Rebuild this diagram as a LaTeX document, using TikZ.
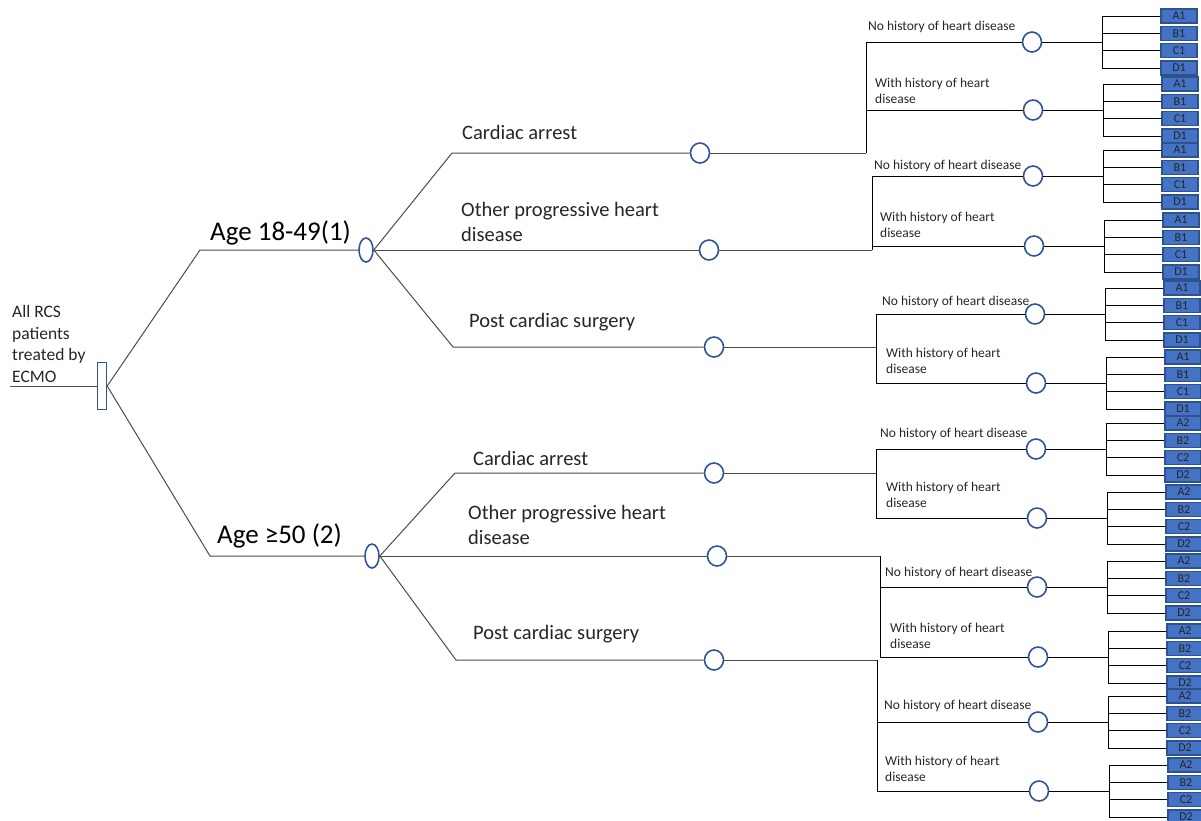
\documentclass[tikz,border=0pt]{standalone}
\usepackage{fontspec}
\setmainfont{Carlito}
\usetikzlibrary{shapes.geometric}

\definecolor{ovalblue}{HTML}{2F5597}
\definecolor{boxblue}{HTML}{4472C4}
\definecolor{boxedge}{HTML}{2F528F}
\definecolor{inkgray}{HTML}{262626}

\begin{document}
\begin{tikzpicture}[x=1pt, y=-1pt,
  chance/.style={ellipse, draw=ovalblue, line width=1.6pt, fill=white,
    inner sep=0pt, minimum width=19pt, minimum height=20pt},
  agechance/.style={chance, minimum width=14pt, minimum height=24pt},
  outcome/.style={rectangle, draw=boxedge, fill=boxblue, line width=1.2pt,
    minimum width=36pt, minimum height=14pt, inner sep=0pt, text=inkgray,
    font=\fontsize{12}{12}\selectfont},
  trunk/.style={draw=black!70, line width=1pt},
  bracket/.style={draw=black, line width=1pt},
  rootlabel/.style={anchor=west, align=left, inner sep=0pt, text=inkgray,
    font=\fontsize{17.5}{21.7}\selectfont},
  agelabel/.style={anchor=west, inner sep=0pt, text=black,
    font=\fontsize{27}{27}\selectfont},
  causelabel/.style={anchor=west, align=left, inner sep=0pt, text=inkgray,
    font=\fontsize{20.5}{25}\selectfont},
  historylabel/.style={anchor=west, align=left, inner sep=0pt, text=inkgray,
    font=\fontsize{13.5}{16}\selectfont}]
  \useasboundingbox (0,0) rectangle (1201,820);
  \clip (0,0) rectangle (1201,820);

  % Root: all patients on ECMO
  \node [draw=ovalblue, line width=1.4pt, minimum width=9pt,
    minimum height=47pt, inner sep=0pt] (ecmo) at (102,386) {};
  \node [rootlabel] (allrcs) at (12,344) {All RCS\\patients\\treated by\\ECMO};
  \coordinate (start) at (10,386);
  \draw [trunk] (start) -- (ecmo);

  % Age groups
  \node [agechance] (age1) at (366,250) {};
  \node [agechance] (age2) at (372,556) {};
  \coordinate (age1-bend) at (200,250);
  \coordinate (age2-bend) at (210,556);
  \draw [trunk] (ecmo.east) -- (age1-bend) -- (age1);
  \draw [trunk] (ecmo.east) -- (age2-bend) -- (age2);
  \node [agelabel] (age1-label) at (210,233) {Age 18-49(1)};
  \node [agelabel] (age2-label) at (217,536) {Age ≥50 (2)};

  % Causes within each age group
  \node [chance] (ca1) at (700,153) {};
  \node [chance] (oph1) at (709,250) {};
  \node [chance] (pcs1) at (714,347) {};
  \node [chance] (ca2) at (714,473) {};
  \node [chance] (oph2) at (717,556) {};
  \node [chance] (pcs2) at (714,660) {};
  \coordinate (ca1-bend) at (452,153);
  \coordinate (pcs1-bend) at (453,347);
  \coordinate (ca2-bend) at (455,473);
  \coordinate (pcs2-bend) at (456,660);
  \draw [trunk] (age1.east) -- (ca1-bend) -- (ca1);
  \draw [trunk] (age1) -- (oph1);
  \draw [trunk] (age1.east) -- (pcs1-bend) -- (pcs1);
  \draw [trunk] (age2.east) -- (ca2-bend) -- (ca2);
  \draw [trunk] (age2) -- (oph2);
  \draw [trunk] (age2.east) -- (pcs2-bend) -- (pcs2);
  \node [causelabel] (ca1-label) at (462,132) {Cardiac arrest};
  \node [causelabel] (oph1-label) at (461,222) {Other progressive heart\\disease};
  \node [causelabel] (pcs1-label) at (469,322) {Post cardiac surgery};
  \node [causelabel] (ca2-label) at (473,458) {Cardiac arrest};
  \node [causelabel] (oph2-label) at (468,525) {Other progressive heart\\disease};
  \node [causelabel] (pcs2-label) at (473,634) {Post cardiac surgery};

  % History of heart disease, with the four outcomes of each
  \foreach \n/\x/\y/\d in {ca1no/1032/42/1, ca1yes/1033/110/1,
      oph1no/1033/176/1, oph1yes/1034/246/1, pcs1no/1035/314/1,
      pcs1yes/1036/383/1, ca2no/1036/449/2, ca2yes/1037/518/2,
      oph2no/1037/587/2, oph2yes/1038/657/2, pcs2no/1038/722/2,
      pcs2yes/1039/791/2} {
    \node [chance] (\n) at (\x,\y) {};
    \coordinate (\n-fork) at (\x+70,\y);
    \draw [bracket] (\n) -- (\n-fork);
    \foreach \k/\o in {A/-26, B/-8.7, C/8.7, D/26} {
      \node [outcome] (\n-\k) at (\x+147,\y+\o) {\k\d};
      \draw [bracket] (\n-fork) |- (\n-\k);
    }
  }

  \coordinate (ca1-fork) at (866,153);
  \coordinate (oph1-fork) at (872,250);
  \coordinate (pcs1-fork) at (876,347);
  \coordinate (ca2-fork) at (876,473);
  \coordinate (oph2-fork) at (880,556);
  \coordinate (pcs2-fork) at (877,660);
  \foreach \c in {ca1, oph1, pcs1, ca2, oph2, pcs2} {
    \draw [trunk] (\c) -- (\c-fork);
    \draw [bracket] (\c-fork) |- (\c no);
    \draw [bracket] (\c-fork) |- (\c yes);
  }
  \node [historylabel] (ca1no-label) at (868,27) {No history of heart disease};
  \node [historylabel] (ca1yes-label) at (875,91) {With history of heart\\disease};
  \node [historylabel] (oph1no-label) at (874,166) {No history of heart disease};
  \node [historylabel] (oph1yes-label) at (880,225) {With history of heart\\disease};
  \node [historylabel] (pcs1no-label) at (882,302) {No history of heart disease};
  \node [historylabel] (pcs1yes-label) at (886,361) {With history of heart\\disease};
  \node [historylabel] (ca2no-label) at (880,434) {No history of heart disease};
  \node [historylabel] (ca2yes-label) at (886,495) {With history of heart\\disease};
  \node [historylabel] (oph2no-label) at (885,573) {No history of heart disease};
  \node [historylabel] (oph2yes-label) at (890,636) {With history of heart\\disease};
  \node [historylabel] (pcs2no-label) at (884,706) {No history of heart disease};
  \node [historylabel] (pcs2yes-label) at (885,769) {With history of heart\\disease};
\end{tikzpicture}
\end{document}
